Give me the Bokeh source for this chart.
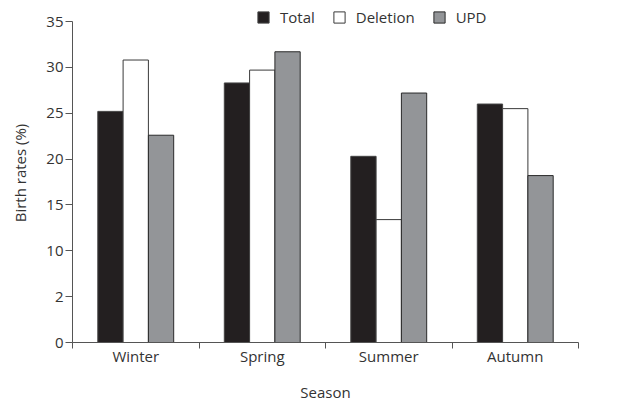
from bokeh.plotting import figure
from bokeh.models import ColumnDataSource, FixedTicker, Legend, LegendItem, Range1d
from bokeh.transform import dodge
from bokeh.embed import file_html
from bokeh.resources import INLINE

seasons = ["Winter", "Spring", "Summer", "Autumn"]
total = [25.2, 28.3, 20.3, 26.0]
deletion = [30.8, 29.7, 13.4, 25.5]
upd = [22.6, 31.7, 27.2, 18.2]
y_ticks = [0, 5, 10, 15, 20, 25, 30, 35]
y_tick_labels = ["0", "2", "10", "15", "20", "25", "30", "35"]

centers = [i + 0.5 for i in range(len(seasons))]
src = ColumnDataSource(dict(x=centers, total=total, deletion=deletion, upd=upd))

FONT = "Open Sans"
TXT = "#333333"
AX = "#555555"
FS = "15px"

FH = 339
YMAX = 35
y_end = FH / (321 / YMAX)

p = figure(output_backend="svg", toolbar_location=None,
           frame_width=506, frame_height=FH,
           min_border_left=72, min_border_right=40, min_border_top=3, min_border_bottom=0,
           x_range=Range1d(0, len(seasons)), y_range=Range1d(0, y_end))
p.outline_line_color = None
p.xgrid.grid_line_color = None
p.ygrid.grid_line_color = None

w = 0.2
r1 = p.vbar(x=dodge("x", -0.2), top="total", width=w, source=src,
            fill_color="#231f20", line_color="#444444", line_width=1)
r2 = p.vbar(x=dodge("x", 0.0), top="deletion", width=w, source=src,
            fill_color="white", line_color="#3a3a3a", line_width=1)
r3 = p.vbar(x=dodge("x", 0.2), top="upd", width=w, source=src,
            fill_color="#939598", line_color="#2a2a2a", line_width=1)

# x axis
xa = p.xaxis[0]
xa.ticker = FixedTicker(ticks=centers, minor_ticks=list(range(len(seasons) + 1)))
xa.major_label_overrides = {c: s for c, s in zip(centers, seasons)}
xa.major_tick_out = 0
xa.major_tick_in = 0
xa.minor_tick_out = 6
xa.minor_tick_in = 0
xa.minor_tick_line_color = AX
xa.axis_line_color = AX
xa.major_label_standoff = -3
xa.major_label_text_font = FONT
xa.major_label_text_font_size = FS
xa.major_label_text_color = TXT
xa.axis_label = "Season"
xa.axis_label_text_font = FONT
xa.axis_label_text_font_size = FS
xa.axis_label_text_font_style = "normal"
xa.axis_label_text_color = TXT
xa.axis_label_standoff = 13

# y axis
ya = p.yaxis[0]
ya.ticker = FixedTicker(ticks=y_ticks)
ya.bounds = (0, YMAX)
ya.major_label_overrides = {t: l for t, l in zip(y_ticks, y_tick_labels)}
ya.major_tick_out = 7
ya.major_tick_in = 0
ya.minor_tick_line_color = None
ya.major_tick_line_color = AX
ya.axis_line_color = AX
ya.major_label_standoff = 2
ya.major_label_text_font = FONT
ya.major_label_text_font_size = FS
ya.major_label_text_color = TXT
ya.axis_label = "Birth rates (%)"
ya.axis_label_text_font = FONT
ya.axis_label_text_font_size = FS
ya.axis_label_text_font_style = "normal"
ya.axis_label_text_color = TXT
ya.axis_label_standoff = 13

legend = Legend(items=[LegendItem(label="Total", renderers=[r1]),
                       LegendItem(label="Deletion", renderers=[r2]),
                       LegendItem(label="UPD", renderers=[r3])],
                orientation="horizontal", location=(184, 315),
                padding=0, margin=0, spacing=17,
                glyph_width=14, glyph_height=14, label_height=14,
                label_standoff=10, label_text_font=FONT,
                label_text_font_size=FS, label_text_color=TXT,
                border_line_color=None, background_fill_alpha=0)
p.add_layout(legend)

open("out.html", "w").write(file_html(p, INLINE))
